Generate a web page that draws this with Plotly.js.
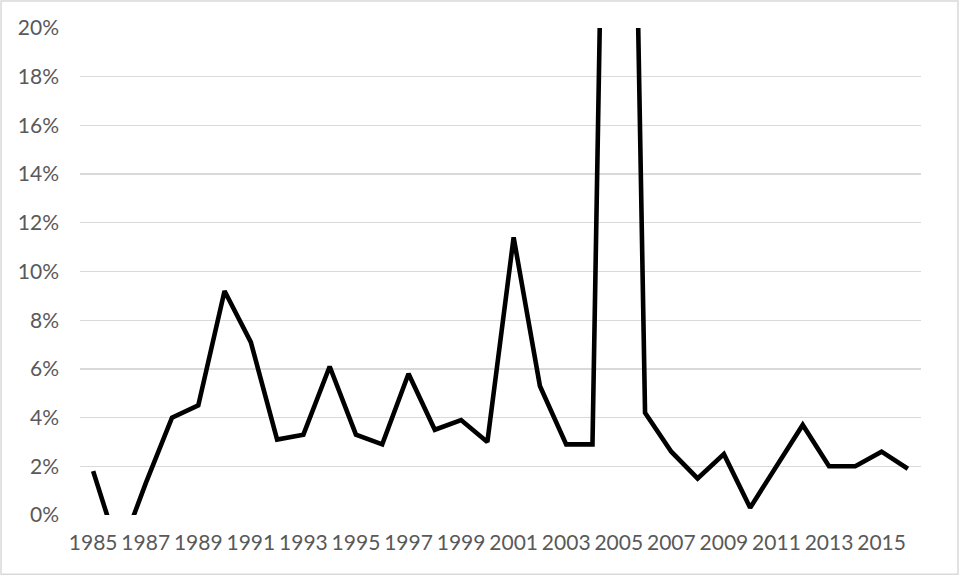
<!DOCTYPE html>
<html>
<head>
<meta charset="utf-8">
<script src="https://cdn.plot.ly/plotly-3.0.1.min.js"></script>
<style>html,body{margin:0;padding:0;background:#fff;}#chart{width:960px;height:576px;}</style>
</head>
<body>
<div id="chart"></div>
<script>
const years = [1985,1986,1987,1988,1989,1990,1991,1992,1993,1994,1995,1996,1997,1998,1999,2000,
               2001,2002,2003,2004,2005,2006,2007,2008,2009,2010,2011,2012,2013,2014,2015,2016];
const growth = [0.018,-0.016,0.013,0.040,0.045,0.092,0.071,0.031,0.033,0.061,0.033,0.029,0.058,0.035,0.039,0.030,
                0.114,0.053,0.029,0.029,0.65,0.042,0.026,0.015,0.025,0.003,0.020,0.037,0.020,0.020,0.026,0.019];
const yTicks = [0,0.02,0.04,0.06,0.08,0.10,0.12,0.14,0.16,0.18,0.20];
const xTicks = [1985,1987,1989,1991,1993,1995,1997,1999,2001,2003,2005,2007,2009,2011,2013,2015];

const trace = {
  x: years, y: growth, type: 'scatter', mode: 'lines',
  line: {color: '#000000', width: 4.6},
  hoverinfo: 'skip'
};
const font = {family: 'Lato, "Open Sans", sans-serif', size: 21, color: '#595959'};
const layout = {
  width: 960, height: 576,
  margin: {l: 80, r: 39, t: 28, b: 61, pad: 0},
  paper_bgcolor: '#ffffff', plot_bgcolor: '#ffffff',
  showlegend: false,
  font: font,
  xaxis: {
    range: [1984.5, 2016.5], tickvals: xTicks, ticktext: xTicks.map(String),
    showgrid: false, zeroline: false, showline: false, ticks: '',
    tickfont: font, ticklabelstandoff: 13, fixedrange: true
  },
  yaxis: {
    range: [0, 0.2], tickvals: yTicks, tickformat: '.0%',
    showgrid: true, gridcolor: '#d9d9d9', gridwidth: 1.3,
    zeroline: false, showline: false, ticks: '',
    tickfont: font, ticklabelstandoff: 20, fixedrange: true
  },
  shapes: [{
    type: 'rect', xref: 'paper', yref: 'paper',
    x0: -0.0939, x1: 1.044, y0: -0.1218, y1: 1.0555,
    line: {color: '#d9d9d9', width: 1.5}, fillcolor: 'rgba(0,0,0,0)', layer: 'below'
  }]
};
Plotly.newPlot('chart', [trace], layout, {staticPlot: true, displayModeBar: false});
</script>
</body>
</html>
